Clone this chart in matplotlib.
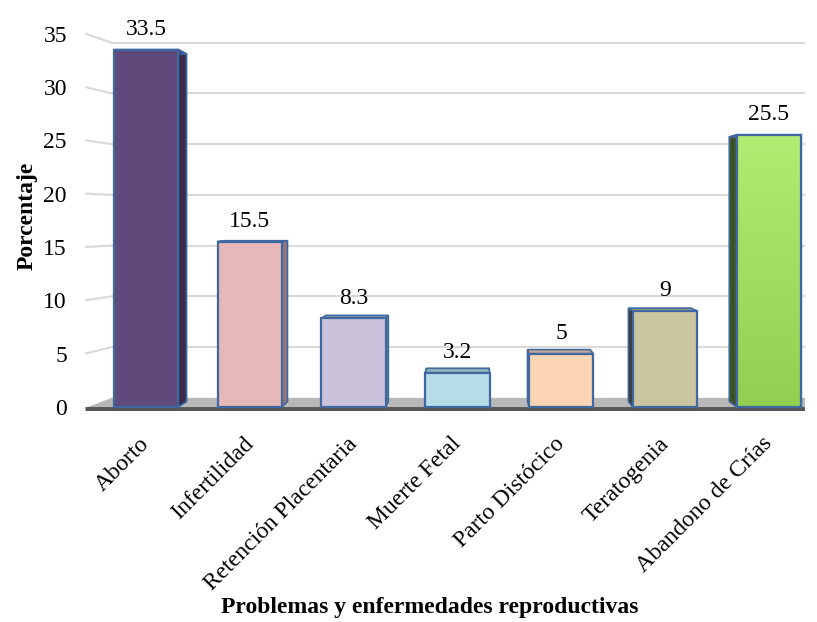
import numpy as np
import matplotlib.pyplot as plt
from matplotlib.patches import Polygon
from matplotlib.colors import to_rgb, LinearSegmentedColormap
from matplotlib.transforms import ScaledTranslation

plt.rcParams['font.family'] = ['Liberation Serif', 'DejaVu Serif']

# datos
categorias = ["Aborto", "Infertilidad", "Retención Placentaria", "Muerte Fetal",
              "Parto Distócico", "Teratogenia", "Abandono de Crías"]
porcentajes = [33.5, 15.5, 8.3, 3.2, 5, 9, 25.5]
etiquetas = ["33.5", "15.5", "8.3", "3.2", "5", "9", "25.5"]
ticks_y = [0, 5, 10, 15, 20, 25, 30, 35]

colores = ["#604A7B", "#E6B9B8", "#CCC1DA", "#B7DEE8", "#FCD5B5", "#CCC6A0", "#9ED95C"]
oscuro = [0.6, 0.65, 0.65, 0.8, 0.8, 0.3, 0.38]
borde = "#3F67A0"

# perspectiva simple (punto de fuga en coordenadas de datos)
xv, yv = 3.2, 18.5
s_bar = 0.972
s_wall = 0.951


def atras(x, y, s):
    return xv + s * (x - xv), yv + s * (y - yv)


def oscurecer(c, f):
    r, g, b = to_rgb(c)
    return (r * f, g * f, b * f)


fig = plt.figure(figsize=(8.17, 6.22), dpi=100)
ax = fig.add_axes([85 / 817, 1 - 411 / 622, 720 / 817, 391 / 622])
x0, x1 = -0.588, 6.35
for sp in ax.spines.values():
    sp.set_visible(False)

# pared del fondo: lineas de cuadricula
x_fondo = -0.33
yb0 = 17.5
for v in ticks_y[1:]:
    yb = yb0 + s_wall * (v - yb0)
    ax.plot([x_fondo, x1], [yb, yb], color="#d9d9d9", lw=1.5, zorder=1)
    ax.plot([x0, x_fondo], [v, yb], color="#d9d9d9", lw=1.5, zorder=1)

# piso
y_piso = yb0 * (1 - s_wall)
piso = Polygon([(x0, -0.1), (x_fondo, y_piso), (x1, y_piso), (x1, -0.1)],
               closed=True, facecolor="#b8b8b8", edgecolor="none", zorder=1)
ax.add_patch(piso)
ax.plot([x0, x1], [-0.2, -0.2], color="#555555", lw=3.5, zorder=2,
        solid_capstyle="butt")

# barras con caras laterales
ancho = 0.62
xs = np.arange(len(categorias))
for i, (x, h, c) in enumerate(zip(xs, porcentajes, colores)):
    izq, der = x - ancho / 2, x + ancho / 2
    # cara lateral
    xe = der if der < xv else izq
    bx_top = atras(xe, h, s_bar)
    bx_bot = atras(xe, 0, s_bar)
    lado = Polygon([(xe, 0), (xe, h), bx_top, bx_bot], closed=True,
                   facecolor=oscurecer(c, oscuro[i]), edgecolor=borde, lw=1.2, zorder=3)
    ax.add_patch(lado)
    # cara superior
    tl = atras(izq, h, s_bar)
    tr = atras(der, h, s_bar)
    tapa = Polygon([(izq, h), (der, h), tr, tl], closed=True,
                   facecolor=oscurecer(c, 0.8), edgecolor=borde, lw=1.2, zorder=3)
    ax.add_patch(tapa)

barras = ax.bar(xs, porcentajes, width=ancho, color=colores, edgecolor=borde,
                linewidth=1.6, zorder=4)

# degradado en la barra verde
verde = barras[-1]
cmap = LinearSegmentedColormap.from_list("verde", ["#92CF50", "#B2EC72"])
grad = np.linspace(0, 1, 100).reshape(-1, 1)
img = ax.imshow(grad, cmap=cmap, origin="lower", aspect="auto", zorder=4.1,
                extent=[verde.get_x(), verde.get_x() + ancho, 0, verde.get_height()])
img.set_clip_path(verde)
ax.bar(xs[-1], porcentajes[-1], width=ancho, facecolor="none", edgecolor=borde,
       linewidth=1.6, zorder=4.2)
ax.set_xlim(x0, x1)
ax.set_ylim(-0.375, 36.27)

for x, h, t in zip(xs, porcentajes, etiquetas):
    ax.annotate(t, (x, h), xytext=(0, 7), textcoords="offset points",
                ha="center", va="bottom", fontsize=17, zorder=5)

ax.set_yticks(ticks_y)
ax.set_yticklabels([str(v) for v in ticks_y], fontsize=17)
ax.tick_params(axis="y", length=0, pad=13)
ax.set_xticks(xs)
ax.set_xticklabels(categorias, rotation=45, ha="right", rotation_mode="anchor",
                   fontsize=17)
ax.tick_params(axis="x", length=0, pad=16)
desplazar = ScaledTranslation(-7 / 100, 0, fig.dpi_scale_trans)
for lab in ax.get_xticklabels():
    lab.set_transform(lab.get_transform() + desplazar)

ax.set_ylabel("Porcentaje", fontsize=17, fontweight="bold", labelpad=4)
fig.text(430 / 817, 1 - 607 / 622, "Problemas y enfermedades reproductivas",
         ha="center", va="center", fontsize=17, fontweight="bold")

fig.savefig("out.png", dpi=100)
